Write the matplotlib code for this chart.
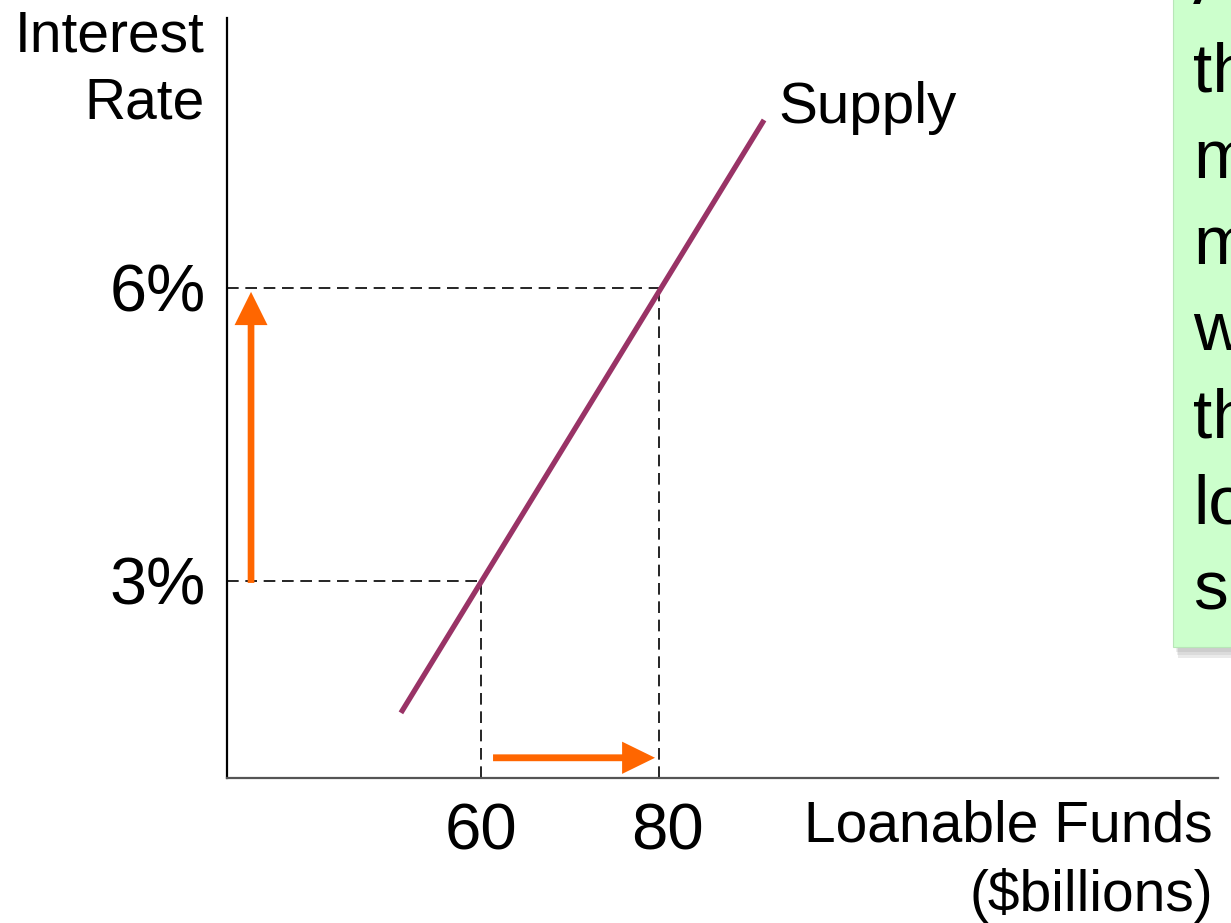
import matplotlib.pyplot as plt
from matplotlib.patches import Rectangle, FancyArrow
from matplotlib.transforms import ScaledTranslation

plt.rcParams['font.family'] = ['Liberation Sans', 'DejaVu Sans']

# data
rate_levels = [3, 6]            # interest rate, %
funds_levels = [60, 80]         # loanable funds, $billions
supply_x = [51.0, 91.8]
supply_y = [1.65, 7.72]
rate_labels = ['3%', '6%']
funds_labels = ['60', '80']
box_lines = ['A', 'th', 'm', 'm', 'w', 'th', 'lo', 's']

W, H = 1231, 923
fig = plt.figure(figsize=(W / 100, H / 100), dpi=100)
ax = fig.add_axes([227 / W, 1 - 778 / H, (1218 - 227) / W, (778 - 18) / H])
ax.set_xlim(31.46, 142.8)
ax.set_ylim(0.983, 8.764)

for s in ['top', 'right']:
    ax.spines[s].set_visible(False)
ax.spines['left'].set_linewidth(1.6)
ax.spines['bottom'].set_linewidth(1.6)
ax.spines['bottom'].set_color('#555555')

ax.set_xticks(funds_levels)
ax.set_xticklabels(funds_labels, fontsize=47)
ax.set_yticks(rate_levels)
ax.set_yticklabels(rate_labels, fontsize=48)
ax.tick_params(axis='x', length=0, pad=18)
ax.tick_params(axis='y', length=0, pad=15)
# the "80" sits a little right of its guide line
lbl = ax.get_xticklabels()[1]
lbl.set_transform(lbl.get_transform() + ScaledTranslation(0.08, 0, fig.dpi_scale_trans))

# dashed guides
x0 = ax.get_xlim()[0]
y0 = ax.get_ylim()[0]
for fx, ry in zip(funds_levels, rate_levels):
    ax.plot([x0, fx], [ry, ry], color='black', lw=1.2, ls=(0, (7, 4)), zorder=1)
    ax.plot([fx, fx], [y0, ry], color='black', lw=1.2, ls=(0, (7, 4)), zorder=1)

# supply curve
ax.plot(supply_x, supply_y, color='#993366', lw=3.8, solid_capstyle='butt', zorder=3)
ax.text(supply_x[1] + 1.6, supply_y[1] + 0.12, 'Supply', fontsize=42, va='center', ha='left')

# orange arrows
orange = '#FF6600'
ax.add_patch(FancyArrow(34.16, rate_levels[0] - 0.02, 0, rate_levels[1] - rate_levels[0] - 0.02,
                        width=0.75, head_width=3.7, head_length=0.34,
                        length_includes_head=True, color=orange, lw=0, zorder=4))
ax.add_patch(FancyArrow(funds_levels[0] + 1.35, 1.19, funds_levels[1] - funds_levels[0] - 1.8, 0,
                        width=0.07, head_width=0.33, head_length=3.7,
                        length_includes_head=True, color=orange, lw=0, zorder=4))

# axis titles
fig.text(205 / W, 1 - 70 / H, 'Interest\nRate', fontsize=41, ha='right', va='center',
         linespacing=1.33)
fig.text(1213 / W, 1 - 861 / H, 'Loanable Funds\n($billions)', fontsize=41, ha='right',
         va='center', linespacing=1.33)

# green callout box (cut off at the edge)
for k, a in enumerate([0.12, 0.12, 0.14]):
    fig.patches.append(Rectangle(((1176 + k) / W, 1 - (649 + 3 * k + 3) / H), 0.2, 1.0,
                                 transform=fig.transFigure, facecolor='#707070', alpha=a,
                                 lw=0, zorder=0))
fig.patches.append(Rectangle((1173 / W, 1 - 647 / H), 0.2, 1.0, transform=fig.transFigure,
                             facecolor='#CCFFCC', edgecolor='#B8E6B8', lw=0.8, zorder=1))
for i, line in enumerate(box_lines):
    yb = 610 - (len(box_lines) - 1 - i) * 86.5
    fig.text(1193 / W, 1 - yb / H, line, fontsize=50, ha='left', va='baseline', zorder=2)

fig.savefig('out.png', dpi=100, facecolor='white')
